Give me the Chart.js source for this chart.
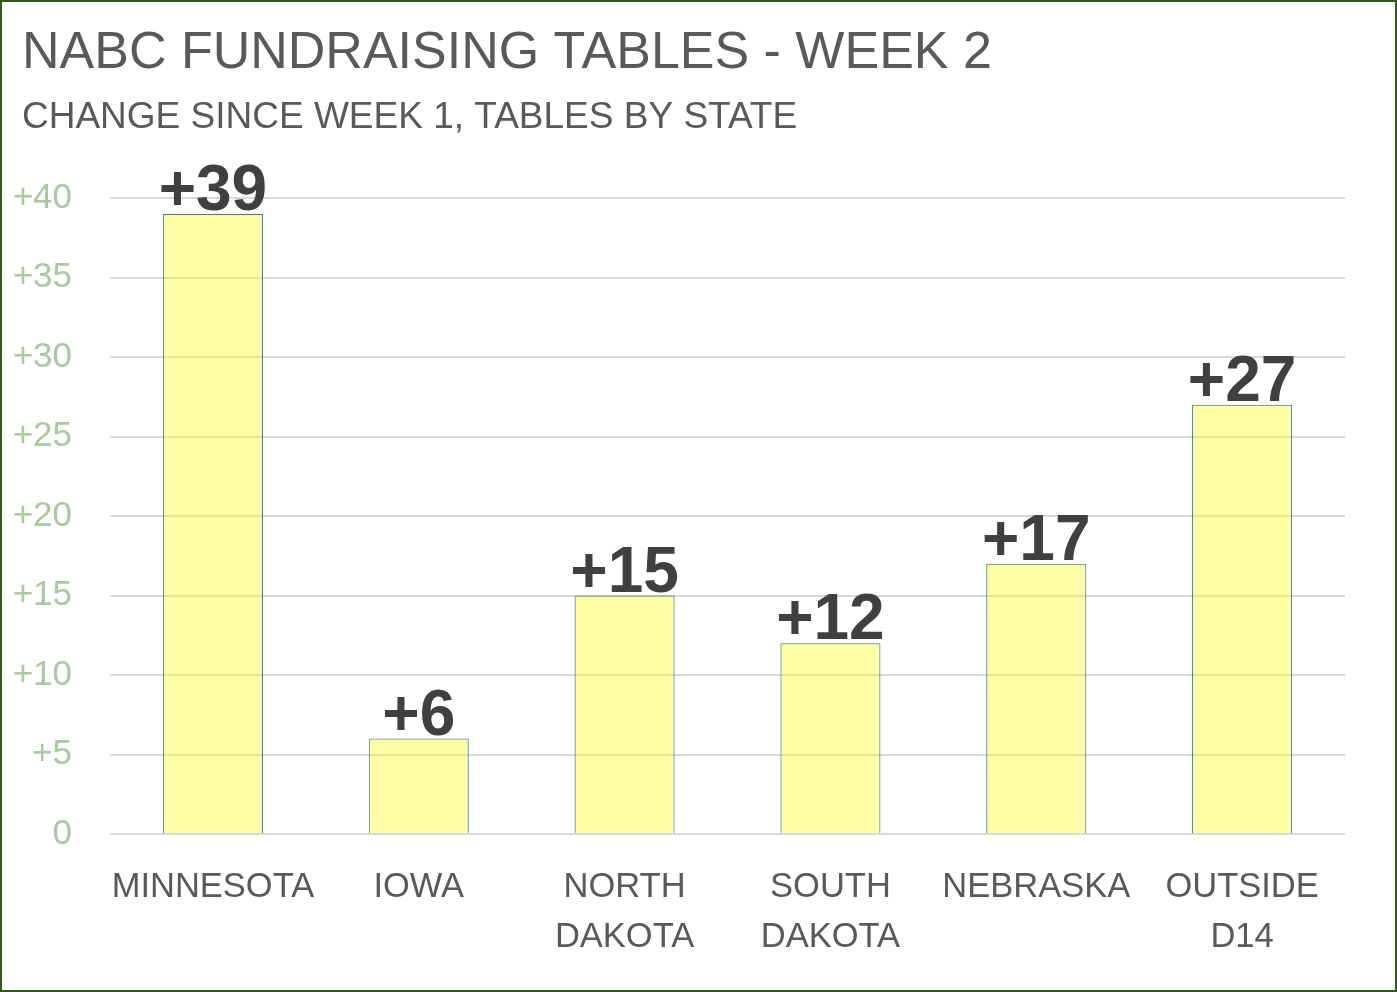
<!DOCTYPE html>
<html>
<head>
<meta charset="utf-8">
<script src="https://cdn.jsdelivr.net/npm/chart.js@4"></script>
<style>
  html, body { margin: 0; padding: 0; background: #fff; }
  #wrap { width: 1397px; height: 992px; box-sizing: border-box; border: 2px solid #2E5A1C; position: relative; }
  canvas { display: block; }
</style>
</head>
<body>
<div id="wrap"><canvas id="c" width="1393" height="988"></canvas></div>
<script>
const titleText = 'NABC FUNDRAISING TABLES - WEEK 2';
const subtitleText = 'CHANGE SINCE WEEK 1, TABLES BY STATE';
const categories = ['MINNESOTA', 'IOWA', ['NORTH', 'DAKOTA'], ['SOUTH', 'DAKOTA'], 'NEBRASKA', ['OUTSIDE', 'D14']];
const changeValues = [39, 6, 15, 12, 17, 27];
const yTicks = [0, 5, 10, 15, 20, 25, 30, 35, 40];

const fmt = v => (v === 0 ? '0' : '+' + v);
const FONT = '"Liberation Sans", Arial, sans-serif';

const headings = {
  id: 'headings',
  afterDraw(chart) {
    const ctx = chart.ctx;
    ctx.save();
    ctx.fillStyle = '#595959';
    ctx.textAlign = 'left';
    ctx.textBaseline = 'alphabetic';
    ctx.font = '52px ' + FONT;
    ctx.fillText(titleText, 20, 66);
    ctx.font = '37px ' + FONT;
    ctx.fillText(subtitleText, 20, 126);
    ctx.restore();
  }
};

const valueLabels = {
  id: 'valueLabels',
  afterDatasetsDraw(chart) {
    const ctx = chart.ctx;
    const meta = chart.getDatasetMeta(0);
    ctx.save();
    ctx.font = 'bold 64px ' + FONT;
    ctx.fillStyle = '#404040';
    ctx.textAlign = 'center';
    ctx.textBaseline = 'alphabetic';
    meta.data.forEach((bar, i) => {
      ctx.fillText(fmt(changeValues[i]), bar.x, bar.y - 4);
    });
    ctx.restore();
  }
};

new Chart(document.getElementById('c'), {
  type: 'bar',
  data: {
    labels: categories,
    datasets: [{
      data: changeValues,
      backgroundColor: 'rgba(255,255,0,0.34)',
      borderColor: '#3F7A9E',
      borderWidth: 1,
      categoryPercentage: 1,
      barPercentage: 0.486
    }]
  },
  options: {
    responsive: false,
    animation: false,
    devicePixelRatio: 1,
    layout: { padding: { left: 0, right: 50, top: 196, bottom: 0 } },
    plugins: {
      legend: { display: false },
      tooltip: { enabled: false },
      title: { display: false },
      subtitle: { display: false }
    },
    scales: {
      x: {
        afterFit: s => { s.height = 156; },
        grid: { display: false, drawTicks: false },
        border: { display: false },
        ticks: {
          color: '#595959', padding: 28, maxRotation: 0, autoSkip: false,
          font: { family: FONT, size: 34.5, lineHeight: 1.45 }
        }
      },
      y: {
        min: 0, max: 40,
        afterFit: s => { s.width = 108; },
        afterBuildTicks: s => { s.ticks = yTicks.map(v => ({ value: v })); },
        grid: { color: '#D9D9D9', lineWidth: 2, drawTicks: false },
        border: { display: false },
        ticks: {
          color: '#A9C99E', padding: 38,
          font: { family: FONT, size: 35 },
          callback: v => fmt(v)
        }
      }
    }
  },
  plugins: [valueLabels, headings]
});
</script>
</body>
</html>
